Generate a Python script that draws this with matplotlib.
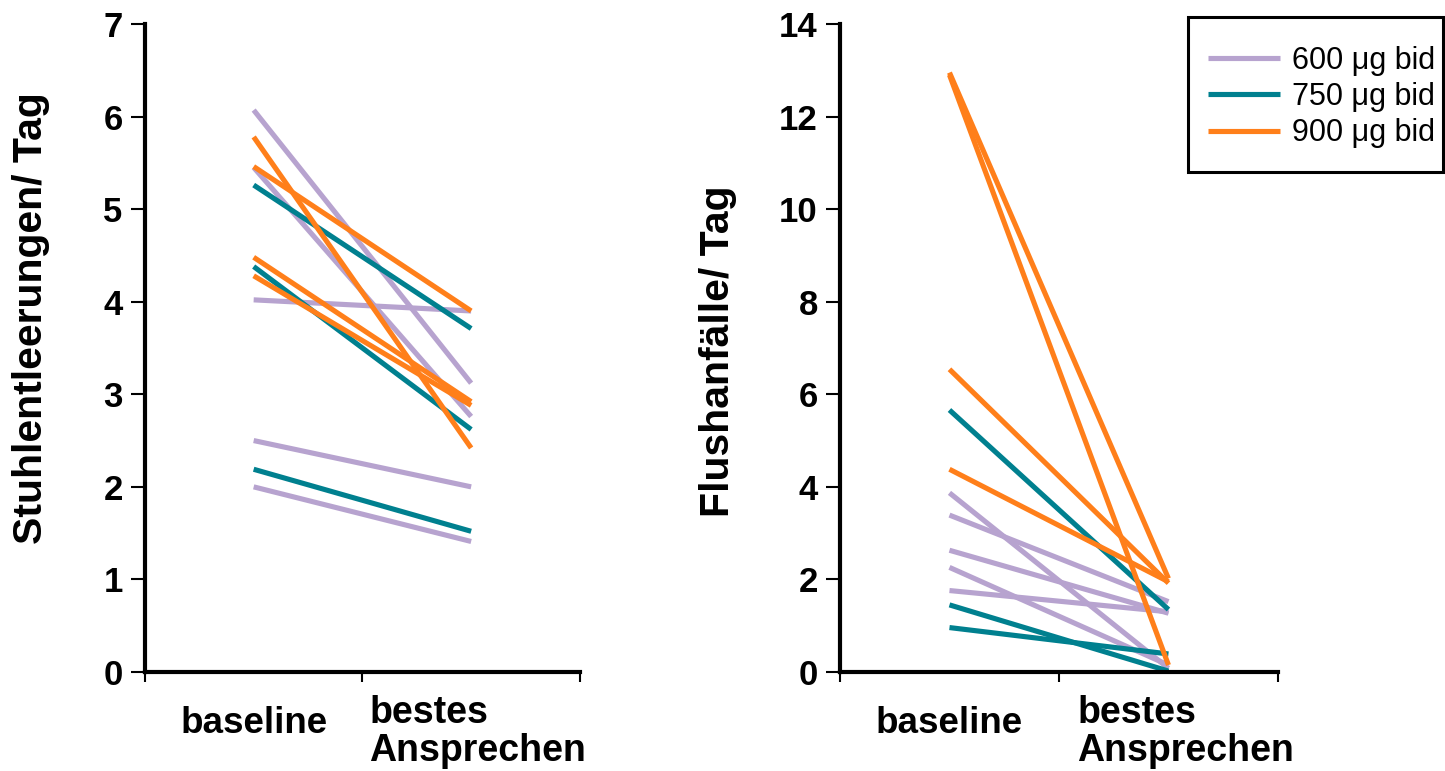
import matplotlib
matplotlib.use("Agg")
import matplotlib.pyplot as plt
import matplotlib.transforms as mtransforms
from matplotlib.patches import Rectangle

plt.rcParams["font.family"] = ["Liberation Sans", "DejaVu Sans"]

# doses and colours
DOSES = ["600 \u03bcg bid", "750 \u03bcg bid", "900 \u03bcg bid"]
COLORS = ["#B7A3CF", "#00808F", "#FF7F1A"]
CATEGORIES = ["baseline", "bestes\nAnsprechen"]

# left panel: stool frequency per day, (baseline, best response)
stool_600 = [(6.07, 3.12), (5.45, 2.76), (4.02, 3.90), (2.50, 2.00), (2.00, 1.41)]
stool_750 = [(5.26, 3.71), (4.38, 2.62), (2.19, 1.52)]
stool_900 = [(5.78, 2.42), (5.46, 3.90), (4.48, 2.92), (4.28, 2.88)]

# right panel: flushing episodes per day
flush_600 = [(3.87, 0.08), (3.39, 1.52), (2.63, 1.27), (2.26, 0.15), (1.76, 1.30)]
flush_750 = [(5.66, 1.35), (1.45, 0.02), (0.96, 0.39)]
flush_900 = [(12.95, 2.02), (12.90, 0.15), (6.54, 1.92), (4.38, 1.95)]

X_POS = [0.5, 1.5]


def style_axis(ax, ymax, ystep, ylabel, label_xy, shift):
    ax.set_xlim(0, 2)
    ax.set_ylim(0, ymax)
    ax.set_yticks(range(0, ymax + 1, ystep))
    ax.set_xticks([0, 1, 2])
    ax.set_xticklabels([])
    for s in ["top", "right"]:
        ax.spines[s].set_visible(False)
    for s in ["left", "bottom"]:
        ax.spines[s].set_linewidth(3.0)
    ax.tick_params(axis="y", direction="out", length=10, width=1.5, pad=6,
                   labelsize=25)
    ax.tick_params(axis="x", direction="out", length=7, width=1.5)
    for lab in ax.get_yticklabels():
        lab.set_fontweight("bold")
    trans = mtransforms.blended_transform_factory(ax.transData, ax.transAxes)
    ax.text(X_POS[0], -0.094, CATEGORIES[0], transform=trans, ha="center",
            va="baseline", fontsize=26.5, fontweight="bold")
    ax.text(X_POS[1] + shift, -0.036, CATEGORIES[1], transform=trans,
            ha="center", va="top", multialignment="left", fontsize=27,
            fontweight="bold", linespacing=1.05)
    ax.set_ylabel(ylabel, fontsize=29.5, fontweight="bold")
    ax.yaxis.set_label_coords(*label_xy)


fig = plt.figure(figsize=(14.45, 7.71), dpi=100)
ax1 = fig.add_axes([0.1003, 0.1284, 0.301, 0.8405])
ax2 = fig.add_axes([0.5813, 0.1284, 0.3031, 0.8405])

for data, col in zip([stool_600, stool_750, stool_900], COLORS):
    for pair in data:
        ax1.plot(X_POS, pair, color=col, lw=3.7, solid_capstyle="butt")

handles = []
for data, col, lab in zip([flush_600, flush_750, flush_900], COLORS, DOSES):
    for i, pair in enumerate(data):
        h, = ax2.plot(X_POS, pair, color=col, lw=3.7, solid_capstyle="butt")
        if i == 0:
            h.set_label(lab)
            handles.append(h)

style_axis(ax1, 7, 1, "Stuhlentleerungen/ Tag", (-0.218, 0.546), 0.03)
style_axis(ax2, 14, 2, "Flushanfälle/ Tag", (-0.235, 0.495), 0.08)

# legend box drawn separately so it can be larger than its content
leg = fig.legend(handles=handles, loc="center left",
                 bbox_to_anchor=(0.836, 0.874), fontsize=22, frameon=False,
                 handlelength=2.35, borderpad=0, borderaxespad=0,
                 labelspacing=0.2, handletextpad=0.4)
fig.patches.append(Rectangle((0.8221, 0.7769), 0.1765, 0.2010,
                             transform=fig.transFigure, fill=False,
                             edgecolor="black", lw=2.2))

fig.savefig("out.png", dpi=100)
plt.close(fig)
